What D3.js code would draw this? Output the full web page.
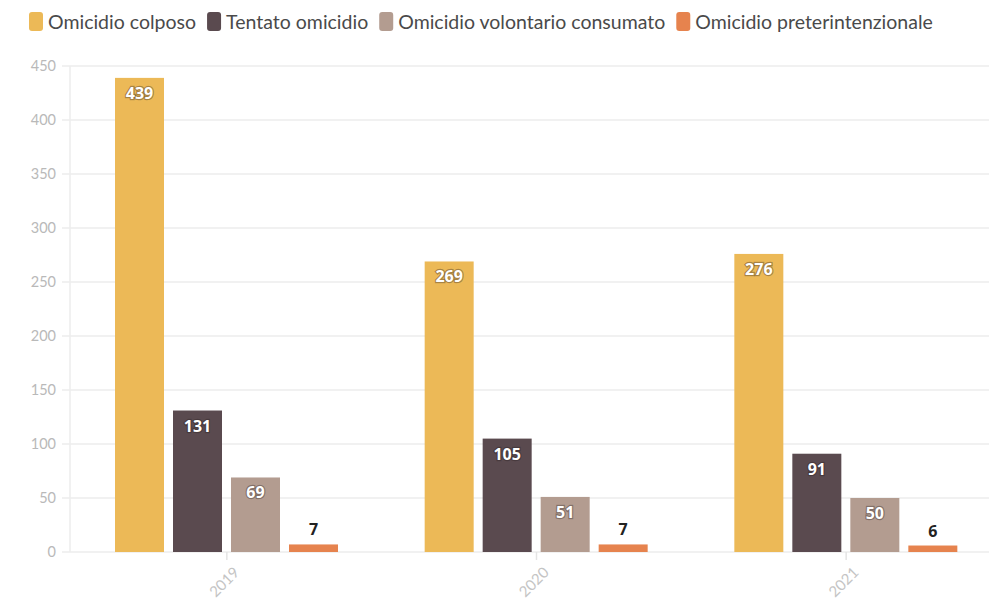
<!DOCTYPE html>
<html>
<head>
<meta charset="utf-8">
<script src="https://cdn.jsdelivr.net/npm/d3@7"></script>
<style>
  html, body { margin: 0; padding: 0; background: #fff; }
  svg { display: block; }
</style>
</head>
<body>
<svg id="chart" width="989" height="603"></svg>
<script>
// Reati di omicidio per anno
const years = ["2019", "2020", "2021"];
const seriesNames = ["Omicidio colposo", "Tentato omicidio", "Omicidio volontario consumato", "Omicidio preterintenzionale"];
const omicidioColposo = [439, 269, 276];
const tentatoOmicidio = [131, 105, 91];
const omicidioVolontario = [69, 51, 50];
const omicidioPreter = [7, 7, 6];
const seriesColors = ["#ecb957", "#5a4a4f", "#b39c90", "#e6834e"];
const yTicks = [0, 50, 100, 150, 200, 250, 300, 350, 400, 450];

const seriesValues = [omicidioColposo, tentatoOmicidio, omicidioVolontario, omicidioPreter];

const svg = d3.select("#chart");
const W = 989, H = 603;
const plot = { left: 72, right: 1001, top: 66, bottom: 552 };

const x0 = d3.scaleBand().domain(years).range([plot.left, plot.right]).paddingInner(0).paddingOuter(0);
const x1 = d3.scaleBand().domain(seriesNames).range([43, 266]).paddingInner(9 / 58).paddingOuter(0);
const y = d3.scaleLinear().domain([0, 450]).range([plot.bottom, plot.top]);

// griglia orizzontale
svg.append("g")
  .selectAll("line")
  .data(yTicks)
  .join("line")
  .attr("x1", 62).attr("x2", W)
  .attr("y1", d => y(d)).attr("y2", d => y(d))
  .attr("stroke", "#ececec").attr("stroke-width", 1.5);

// asse verticale
svg.append("line")
  .attr("x1", 70).attr("x2", 70)
  .attr("y1", plot.top).attr("y2", plot.bottom)
  .attr("stroke", "#ececec").attr("stroke-width", 1.5);

// etichette asse y
svg.append("g")
  .selectAll("text")
  .data(yTicks)
  .join("text")
  .attr("x", 56)
  .attr("y", d => y(d))
  .attr("dy", "0.35em")
  .attr("text-anchor", "end")
  .attr("font-family", "Lato, 'Open Sans', sans-serif")
  .attr("font-size", 14.5)
  .attr("fill", "#b9b9b9")
  .text(d => d);

// asse x
const xAxis = svg.append("g");
years.forEach(yr => {
  const cx = x0(yr) + x0.bandwidth() / 2;
  xAxis.append("line")
    .attr("x1", cx).attr("x2", cx)
    .attr("y1", plot.bottom).attr("y2", plot.bottom + 8)
    .attr("stroke", "#e4e4e4").attr("stroke-width", 1.5);
  xAxis.append("text")
    .attr("transform", `translate(${cx + 6},${plot.bottom + 14}) rotate(-45)`)
    .attr("text-anchor", "end")
    .attr("dy", "0.7em")
    .attr("font-family", "Lato, 'Open Sans', sans-serif")
    .attr("font-size", 15)
    .attr("fill", "#c4c4c4")
    .text(yr);
});

// barre
const groups = svg.append("g")
  .selectAll("g")
  .data(years)
  .join("g")
  .attr("transform", d => `translate(${x0(d)},0)`);

groups.each(function (yr, yi) {
  const g = d3.select(this);
  seriesNames.forEach((name, si) => {
    const v = seriesValues[si][yi];
    const bx = x1(name);
    const bw = x1.bandwidth();
    g.append("rect")
      .attr("x", bx).attr("y", y(v))
      .attr("width", bw).attr("height", y(0) - y(v))
      .attr("fill", seriesColors[si]);
    const inside = (y(0) - y(v)) > 30;
    g.append("text")
      .attr("x", bx + bw / 2)
      .attr("y", inside ? y(v) + 21 : y(v) - 9)
      .attr("text-anchor", "middle")
      .attr("font-family", "'Open Sans', 'DejaVu Sans', sans-serif")
      .attr("font-weight", 700)
      .attr("font-size", 16)
      .attr("fill", inside ? "#ffffff" : "#222222")
      .attr("stroke", inside ? "rgba(40,30,30,0.35)" : "none")
      .attr("stroke-width", 2.5)
      .attr("paint-order", "stroke")
      .text(v);
  });
});

// legenda
const legend = svg.append("g");
let lx = 29;
seriesNames.forEach((name, i) => {
  legend.append("rect")
    .attr("x", lx).attr("y", 12)
    .attr("width", 14).attr("height", 19)
    .attr("rx", 3)
    .attr("fill", seriesColors[i]);
  const t = legend.append("text")
    .attr("x", lx + 19).attr("y", 22)
    .attr("dy", "0.35em")
    .attr("font-family", "Lato, 'Open Sans', sans-serif")
    .attr("font-size", 19.5)
    .attr("fill", "#4a4a4a")
    .text(name);
  lx += 19 + t.node().getComputedTextLength() + 11;
});
</script>
</body>
</html>
